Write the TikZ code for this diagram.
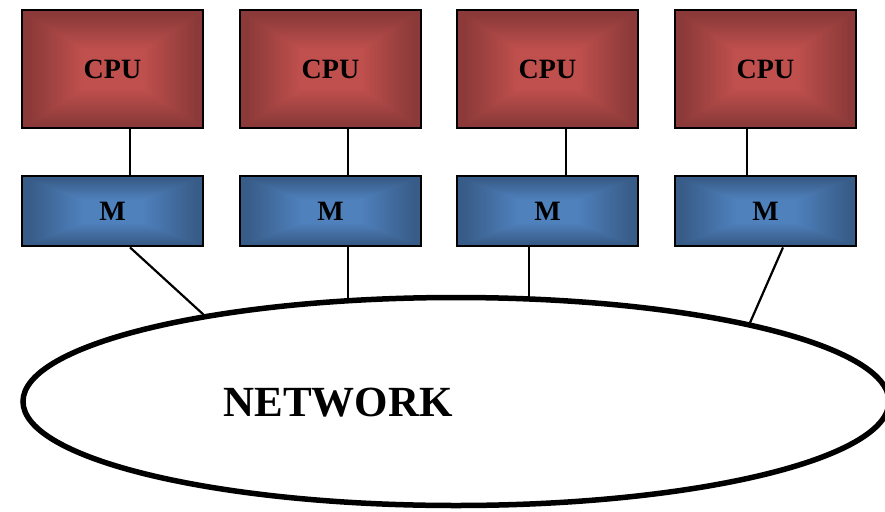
\documentclass[tikz,border=0pt]{standalone}
\usepackage{fontspec}
\setmainfont{Liberation Serif}
\usetikzlibrary{shapes.geometric,backgrounds}
\definecolor{redout}{RGB}{139,58,57}
\definecolor{redin}{RGB}{192,80,77}
\definecolor{blueout}{RGB}{56,92,136}
\definecolor{bluein}{RGB}{79,129,189}
\newcommand\mkshades[3]{%
\pgfdeclarehorizontalshading{#1h}{100bp}{color(0bp)=(#2); color(27bp)=(#2); color(42bp)=(#3); color(58bp)=(#3); color(73bp)=(#2); color(100bp)=(#2)}%
\pgfdeclareverticalshading{#1t}{100bp}{color(0bp)=(#3); color(41bp)=(#3); color(71bp)=(#2); color(100bp)=(#2)}%
\pgfdeclareverticalshading{#1b}{100bp}{color(0bp)=(#2); color(29bp)=(#2); color(59bp)=(#3); color(100bp)=(#3)}%
}
\mkshades{redsh}{redout}{redin}
\mkshades{bluesh}{blueout}{bluein}
\tikzset{
  pyr/.style={path picture={
    \shade[shading=#1h] (path picture bounding box.south west) rectangle (path picture bounding box.north east);
    \shade[shading=#1t] (path picture bounding box.north west) -- (path picture bounding box.north east) -- (path picture bounding box.center) -- cycle;
    \shade[shading=#1b] (path picture bounding box.south west) -- (path picture bounding box.south east) -- (path picture bounding box.center) -- cycle;
  }},
  cpubox/.style={draw, line width=2.8pt, rectangle, minimum width=181pt, minimum height=118pt, inner sep=0pt, pyr=redsh, font=\bfseries\fontsize{28}{30}\selectfont},
  membox/.style={draw, line width=2.8pt, rectangle, minimum width=181pt, minimum height=70pt, inner sep=0pt, pyr=bluesh, font=\bfseries\fontsize{28}{30}\selectfont},
  link/.style={line width=2.2pt},
  netell/.style={draw, ellipse, line width=5.5pt, fill=white, minimum width=866pt, minimum height=208pt, inner sep=0pt}
}
\begin{document}
\begin{tikzpicture}[x=1pt,y=-1pt]
\useasboundingbox (0,0) rectangle (885,511);
\node[cpubox] (cpu1) at (112.5,69) {CPU};
\node[cpubox] (cpu2) at (330.5,69) {CPU};
\node[cpubox] (cpu3) at (547.5,69) {CPU};
\node[cpubox] (cpu4) at (765.5,69) {CPU};
\node[membox] (m1) at (112.5,211) {M};
\node[membox] (m2) at (330.5,211) {M};
\node[membox] (m3) at (547.5,211) {M};
\node[membox] (m4) at (765.5,211) {M};
\node[netell] (net) at (456,401.5) {};
\node[font=\bfseries\fontsize{43}{46}\selectfont] (netlabel) at (338,403) {NETWORK};
\coordinate (m1b) at ([xshift=17.5pt]m1.south);
\coordinate (m2b) at ([xshift=17.5pt]m2.south);
\coordinate (m3b) at ([xshift=-18.5pt]m3.south);
\coordinate (m4b) at ([xshift=17.5pt]m4.south);
\begin{scope}[on background layer]
\draw[link] ([xshift=17.5pt]cpu1.south) -- ([xshift=17.5pt]m1.north);
\draw[link] ([xshift=17.5pt]cpu2.south) -- ([xshift=17.5pt]m2.north);
\draw[link] ([xshift=18.5pt]cpu3.south) -- ([xshift=18.5pt]m3.north);
\draw[link] ([xshift=-18.5pt]cpu4.south) -- ([xshift=-18.5pt]m4.north);
\draw[link] (m1b) -- (net.161.4);
\draw[link] (m2b) -- (m2b |- net.center);
\draw[link] (m3b) -- (m3b |- net.center);
\draw[link] (m4b) -- (net.15.8);
\end{scope}
\end{tikzpicture}
\end{document}
